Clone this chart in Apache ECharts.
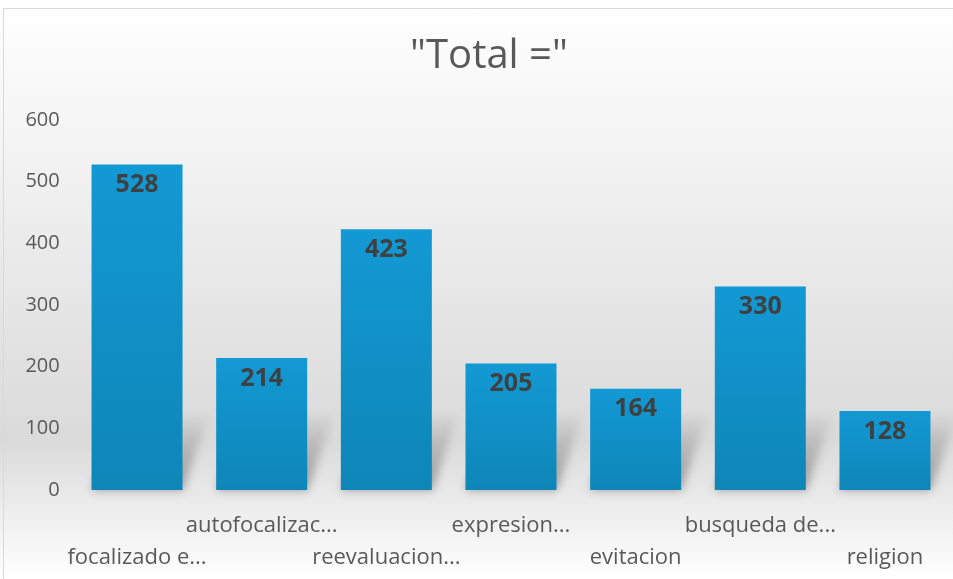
<!DOCTYPE html>
<html>
<head>
<meta charset="utf-8">
<style>
html,body{margin:0;padding:0;background:#fff;}
#c{width:953px;height:579px;}
</style>
<script src="https://cdn.jsdelivr.net/npm/echarts@6/dist/echarts.min.js"></script>
</head>
<body>
<div id="c"></div>
<script>
const categories = ["focalizado e...", "autofocalizac...", "reevaluacion...", "expresion...", "evitacion", "busqueda de...", "religion"];
const values = [528, 214, 423, 205, 164, 330, 128];
const yTicks = { min: 0, max: 600, interval: 100 };
const titleText = '"Total ="';

const chart = echarts.init(document.getElementById('c'));
const FAR = 3000;
chart.setOption({
  animation: false,
  backgroundColor: new echarts.graphic.LinearGradient(0, 0, 0, 1, [
    { offset: 0, color: '#ffffff' },
    { offset: 0.2, color: '#f6f6f6' },
    { offset: 0.76, color: '#dadada' },
    { offset: 0.88, color: '#ededed' },
    { offset: 1, color: '#ffffff' }
  ]),
  title: {
    text: titleText,
    left: 484,
    top: 32,
    textAlign: 'center',
    textStyle: { fontFamily: 'Open Sans', fontSize: 40, fontWeight: 'normal', color: '#595959' }
  },
  graphic: [{
    type: 'rect', shape: { x: 3.5, y: 8.5, width: 960, height: 590 },
    style: { fill: 'none', stroke: '#d9d9d9', lineWidth: 1 }, silent: true
  }],
  grid: { left: 74.7, right: 5.7, top: 120, bottom: 89 },
  xAxis: {
    type: 'category',
    data: categories,
    axisLine: { show: false },
    axisTick: { show: false },
    axisLabel: {
      interval: 0,
      margin: 20,
      fontFamily: 'Open Sans',
      fontSize: 22,
      color: '#595959',
      lineHeight: 32,
      formatter: (v, i) => (i % 2 === 0 ? '\n' + v : v)
    }
  },
  yAxis: {
    type: 'value',
    min: yTicks.min, max: yTicks.max, interval: yTicks.interval,
    axisLine: { show: false },
    axisTick: { show: false },
    splitLine: { show: false },
    axisLabel: { margin: 15, fontFamily: 'Open Sans', fontSize: 20, color: '#595959' }
  },
  series: [{
    type: 'custom',
    silent: true,
    clip: false,
    z: 1,
    data: values.map((v, i) => [i, v]),
    renderItem: function (params, api) {
      const base = api.coord([api.value(0), 0]);
      const top = api.coord([api.value(0), api.value(1)]);
      const bw = api.size([1, 0])[0] * 0.73;
      const x0 = base[0] - bw / 2 + FAR, x1 = base[0] + bw / 2 + FAR;
      const h = Math.min(80, base[1] - top[1]);
      const d = 28;
      return {
        type: 'polygon',
        shape: { points: [[x0, base[1]], [x1, base[1]], [x1 + d, base[1] - h], [x0 + d, base[1] - h]] },
        style: {
          fill: new echarts.graphic.LinearGradient(0, 1, 0, 0, [
            { offset: 0, color: 'rgba(0,0,0,1)' },
            { offset: 1, color: 'rgba(0,0,0,0)' }
          ]),
          shadowBlur: 10,
          shadowOffsetX: -FAR,
          shadowColor: 'rgba(0,0,0,0.35)'
        }
      };
    }
  }, {
    type: 'bar',
    z: 2,
    data: values,
    barWidth: '73%',
    itemStyle: {
      color: new echarts.graphic.LinearGradient(0, 0, 0, 1, [
        { offset: 0, color: '#1399d4' },
        { offset: 1, color: '#0e86b8' }
      ])
    },
    label: {
      show: true,
      position: 'insideTop',
      distance: 8,
      fontFamily: 'Open Sans',
      fontSize: 25,
      fontWeight: 'bold',
      color: '#404040'
    }
  }]
});
</script>
</body>
</html>
